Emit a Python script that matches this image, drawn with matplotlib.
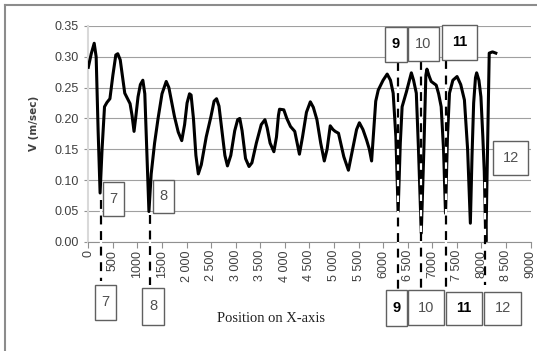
import matplotlib
matplotlib.use('Agg')
import matplotlib.pyplot as plt
from matplotlib.patches import Rectangle
from matplotlib.lines import Line2D

# velocity along the X axis
position = [0, 60, 120, 160, 200, 240, 280, 330, 380, 440, 500, 560, 600, 650, 700,
            742, 800, 850, 890, 931, 970, 1012, 1060, 1110, 1150, 1190, 1234, 1280,
            1349, 1420, 1500, 1586, 1640, 1700, 1754, 1830, 1902, 1960, 2010, 2060,
            2092, 2140, 2190, 2239, 2300, 2400, 2496, 2560, 2610, 2660, 2720, 2780,
            2832, 2900, 2980, 3040, 3083, 3130, 3200, 3271, 3330, 3420, 3520, 3595,
            3640, 3700, 3777, 3830, 3870, 3892, 3979, 4040, 4115, 4202, 4250, 4297,
            4360, 4440, 4519, 4580, 4653, 4730, 4803, 4860, 4924, 4980, 5025, 5092,
            5200, 5294, 5380, 5460, 5517, 5590, 5664, 5720, 5766, 5800, 5850, 5901,
            6000, 6083, 6150, 6205, 6260, 6306, 6350, 6387, 6474, 6575, 6620, 6676,
            6720, 6777, 6830, 6870, 6892, 6940, 6979, 7081, 7130, 7182, 7230, 7270,
            7310, 7351, 7420, 7505, 7580, 7655, 7720, 7776, 7810, 7843, 7880, 7904,
            7950, 7991, 8030, 8059, 8092, 8125, 8160, 8227, 8294]
velocity = [0.283, 0.305, 0.322, 0.300, 0.180, 0.079, 0.150, 0.219, 0.226, 0.232, 0.270,
            0.303, 0.305, 0.295, 0.265, 0.241, 0.232, 0.224, 0.205, 0.179, 0.205, 0.235,
            0.255, 0.262, 0.240, 0.150, 0.049, 0.110, 0.160, 0.200, 0.240, 0.260, 0.250,
            0.225, 0.203, 0.178, 0.164, 0.190, 0.225, 0.240, 0.238, 0.200, 0.140, 0.110,
            0.125, 0.170, 0.203, 0.228, 0.232, 0.220, 0.180, 0.140, 0.123, 0.140, 0.180,
            0.198, 0.200, 0.180, 0.135, 0.122, 0.128, 0.160, 0.190, 0.198, 0.185, 0.160,
            0.146, 0.170, 0.205, 0.215, 0.214, 0.200, 0.187, 0.179, 0.160, 0.142, 0.170,
            0.210, 0.227, 0.218, 0.198, 0.160, 0.131, 0.150, 0.188, 0.182, 0.179, 0.176,
            0.138, 0.116, 0.150, 0.182, 0.193, 0.182, 0.165, 0.150, 0.131, 0.170, 0.228,
            0.246, 0.262, 0.272, 0.262, 0.241, 0.170, 0.049, 0.160, 0.219, 0.243, 0.274,
            0.262, 0.241, 0.150, 0.014, 0.150, 0.270, 0.280, 0.268, 0.260, 0.254, 0.240,
            0.219, 0.150, 0.046, 0.170, 0.241, 0.262, 0.268, 0.255, 0.230, 0.150, 0.030,
            0.140, 0.225, 0.266, 0.274, 0.262, 0.235, 0.170, 0.114, 0.000, 0.150, 0.306,
            0.308, 0.306]

xticks = list(range(0, 9001, 500))
xtick_labels = ['0', '500', '1000', '1500', '2 000', '2 500', '3 000', '3 500', '4 000',
                '4 500', '5 000', '5 500', '6000', '6 500', '7000', '7 500', '8000',
                '8 500', '9000']
yticks = [0.00, 0.05, 0.10, 0.15, 0.20, 0.25, 0.30, 0.35]

# section markers (dashed verticals) at the velocity dips
marker_labels = ['7', '8', '9', '10', '11', '12']
marker_x = [250, 1250, 6306, 6765, 7290, 8075]
marker_top = [0.195, 0.125, 0.833, 0.838, 0.842, 0.32]   # axes fraction
marker_bottom = [-0.18, -0.20, -0.225, -0.225, -0.225, -0.20]

W, H = 537, 351
sans = 'Liberation Sans'

fig = plt.figure(figsize=(W / 100, H / 100), dpi=100)
ax = fig.add_axes([88.3 / W, 1 - 241.7 / H, (530.5 - 88.3) / W, 215.7 / H])

ax.plot(position, velocity, color='black', lw=2.2, solid_joinstyle='round', zorder=3)

ax.set_xlim(0, 9000)
ax.set_ylim(0, 0.35)
ax.set_xticks(xticks)
ax.set_xticklabels(xtick_labels, rotation=90, fontsize=9, family=sans, color='#404040')
ax.set_yticks(yticks)
ax.set_yticklabels(['%.2f' % v for v in yticks], fontsize=9, family=sans, color='#404040')
ax.tick_params(axis='x', length=4, width=0.8, color='#909090', pad=2)
ax.tick_params(axis='y', length=3, width=0.8, color='#909090', pad=4)
ax.grid(axis='y', color='#a0a0a0', lw=0.8)
ax.set_axisbelow(True)
for s in ['top', 'right']:
    ax.spines[s].set_visible(False)
ax.spines['left'].set_color('#d9d9d9')
ax.spines['left'].set_linewidth(1.5)
ax.spines['bottom'].set_color('#909090')
ax.spines['bottom'].set_linewidth(0.8)

trans = ax.get_xaxis_transform()
for x, t, b in zip(marker_x, marker_top, marker_bottom):
    ax.add_line(Line2D([x, x], [t, b], transform=trans, color='black', lw=1.6,
                       linestyle=(0, (4, 3)), gapcolor='white', clip_on=False, zorder=4))

# label boxes, in image pixels: label, left, top, right, bottom, bold
boxes = [('7', 103, 182, 124, 216, False), ('8', 153, 180, 174, 213, False),
         ('9', 385, 27, 407, 62, True), ('10', 408, 27, 439, 61, False),
         ('11', 442, 25, 477, 60, True), ('12', 493, 141, 528, 175, False),
         ('7', 95, 285, 116, 320, False), ('8', 142, 288, 164, 325, False),
         ('9', 386, 290, 407, 326, True), ('10', 408, 290, 444, 325, False),
         ('11', 446, 292, 482, 325, True), ('12', 484, 292, 521, 325, False)]
for lab, x0, y0, x1, y1, bold in boxes:
    fig.add_artist(Rectangle((x0 / W, 1 - y1 / H), (x1 - x0) / W, (y1 - y0) / H,
                             transform=fig.transFigure, facecolor='white',
                             edgecolor='#606060', lw=1.0, zorder=5))
    fig.text((x0 + x1) / 2 / W, 1 - (y0 + y1) / 2 / H, lab, ha='center', va='center',
             fontsize=10.5, family=sans, fontweight='bold' if bold else 'normal',
             color='black' if bold else '#505050', zorder=6)

fig.text(271 / W, 1 - 318 / H, 'Position on X-axis', ha='center', va='center',
         fontsize=10.5, family='Liberation Serif', color='#202020')
fig.text(34 / W, 1 - 123 / H, 'V (m/sec)', ha='center', va='center', rotation=90,
         fontsize=7.5, fontweight='bold', color='#404040')

# outer frame (left and top edges visible)
fig.add_artist(Line2D([4.5 / W, 4.5 / W], [0, 1 - 4.7 / H], transform=fig.transFigure,
                      color='#8c8c8c', lw=1.5))
fig.add_artist(Line2D([4.5 / W, 1], [1 - 4.7 / H, 1 - 4.7 / H], transform=fig.transFigure,
                      color='#8c8c8c', lw=1.5))

fig.savefig('out.png', dpi=100)
